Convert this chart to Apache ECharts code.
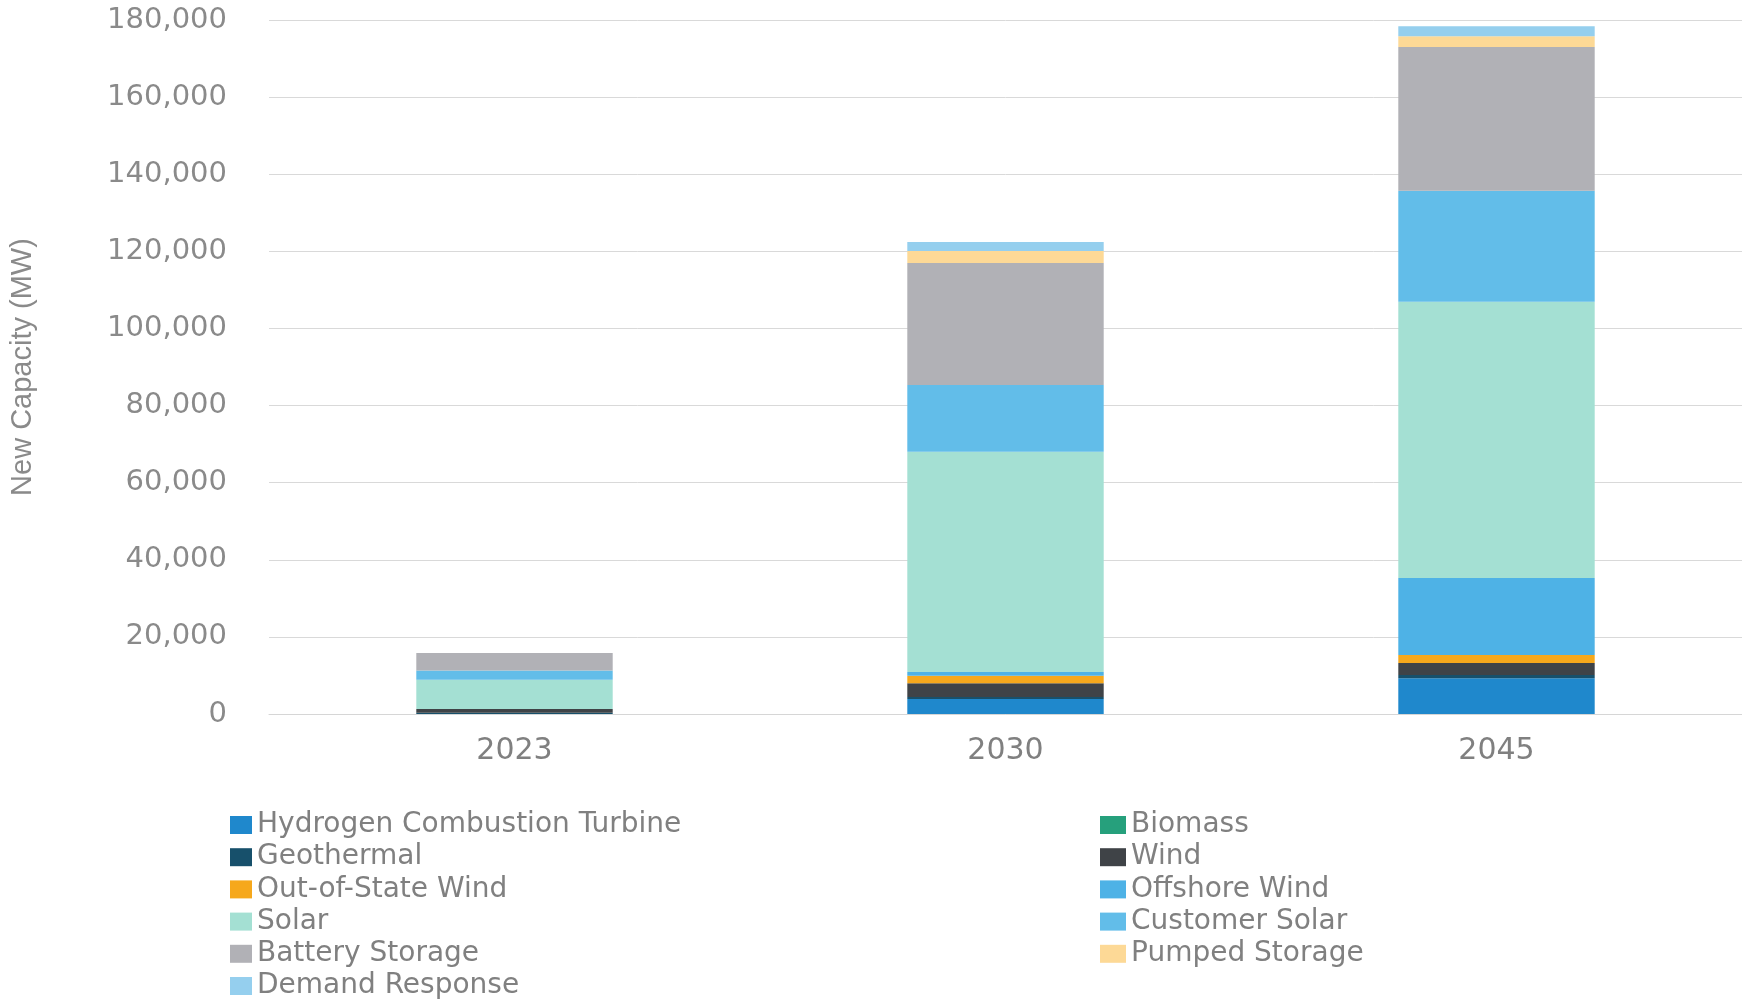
<!DOCTYPE html>
<html>
<head>
<meta charset="utf-8">
<script src="https://cdn.jsdelivr.net/npm/echarts@6/dist/echarts.min.js"></script>
<style>html,body{margin:0;padding:0;background:#fff}#c{width:1742px;height:1000px}</style>
</head>
<body>
<div id="c"></div>
<script>
const categories = ['2023', '2030', '2045'];
const seriesNames = ['Hydrogen Combustion Turbine', 'Biomass', 'Geothermal', 'Wind', 'Out-of-State Wind', 'Offshore Wind', 'Solar', 'Customer Solar', 'Battery Storage', 'Pumped Storage', 'Demand Response'];
const hydrogen = [0, 3900, 9300];
const biomass = [0, 0, 0];
const geothermal = [300, 500, 800];
const wind = [1000, 3600, 3100];
const outOfStateWind = [0, 1900, 2100];
const offshoreWind = [0, 1000, 20000];
const solar = [7600, 57100, 71600];
const customerSolar = [2400, 17300, 28800];
const batteryStorage = [4500, 31700, 37300];
const pumpedStorage = [0, 3100, 2800];
const demandResponse = [0, 2300, 2600];
const yTicks = [0, 20000, 40000, 60000, 80000, 100000, 120000, 140000, 160000, 180000];

const values = [hydrogen, biomass, geothermal, wind, outOfStateWind, offshoreWind, solar, customerSolar, batteryStorage, pumpedStorage, demandResponse];
const colors = ['#1f88cc', '#26a07c', '#17506b', '#3f4347', '#f6a81c', '#4eb2e6', '#a4e0d3', '#62bde9', '#b1b1b6', '#fdd996', '#95cfee'];

const chart = echarts.init(document.getElementById('c'));
const legendText = {fontFamily: 'DejaVu Sans', fontSize: 28, color: '#808080'};
chart.setOption({
  animation: false,
  grid: {left: 265, top: 20, width: 1486, bottom: 286, containLabel: false},
  xAxis: {
    type: 'category', data: categories,
    axisLine: {lineStyle: {color: '#d6d6d6'}},
    axisTick: {show: false},
    axisLabel: {fontFamily: 'DejaVu Sans', fontSize: 30, color: '#808080', margin: 22}
  },
  yAxis: {
    type: 'value', min: yTicks[0], max: yTicks[yTicks.length - 1], interval: yTicks[1] - yTicks[0],
    name: 'New Capacity (MW)', nameLocation: 'middle', nameGap: 232, nameRotate: 90,
    nameTextStyle: {fontFamily: 'Liberation Sans Narrow, Liberation Sans', fontSize: 29, color: '#8a8a8a'},
    axisLine: {show: false}, axisTick: {show: false},
    splitLine: {lineStyle: {color: '#d9d9d9', width: 1}},
    axisLabel: {fontFamily: 'DejaVu Sans', fontSize: 29, color: '#8a8a8a', margin: 42,
      formatter: v => v.toLocaleString('en-US')}
  },
  legend: [
    {orient: 'vertical', left: 230, top: 811, height: 220, itemWidth: 22, itemHeight: 18, itemGap: 4.2,
     padding: 0, icon: 'rect', textStyle: legendText,
     data: [seriesNames[0], seriesNames[2], seriesNames[4], seriesNames[6], seriesNames[8], seriesNames[10]]},
    {orient: 'vertical', left: 1100, top: 811, height: 220, itemWidth: 26, itemHeight: 18, itemGap: 4.2,
     padding: 0, icon: 'rect', textStyle: legendText,
     data: [seriesNames[1], seriesNames[3], seriesNames[5], seriesNames[7], seriesNames[9]]}
  ],
  series: seriesNames.map((n, i) => ({
    name: n, type: 'bar', stack: 'total', barWidth: '40%',
    itemStyle: {color: colors[i]},
    data: values[i]
  }))
});
</script>
</body>
</html>
